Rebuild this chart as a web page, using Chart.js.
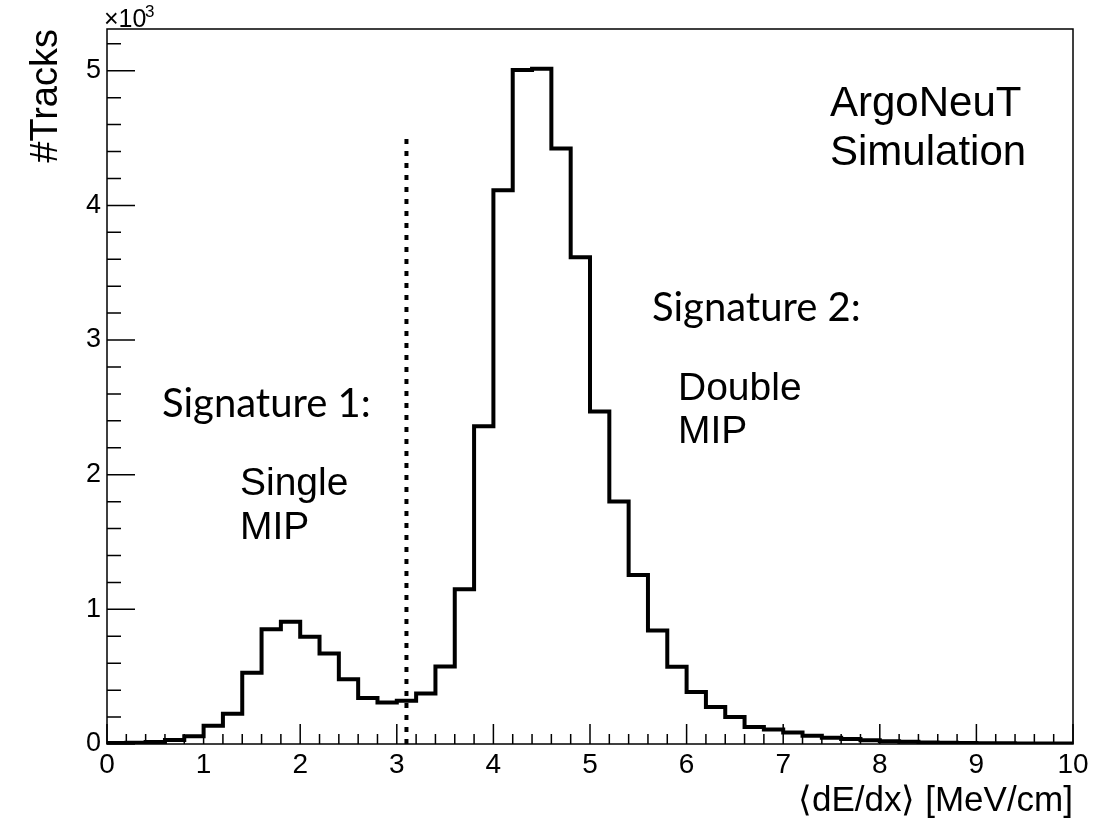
<!DOCTYPE html>
<html lang="en">
<head>
<meta charset="UTF-8">
<title>ArgoNeuT dE/dx</title>
<script src="https://cdn.jsdelivr.net/npm/chart.js"></script>
<style>
  body { margin: 0; background: #fff; }
  canvas { display: block; }
</style>
</head>
<body>
<canvas id="histo" width="1114" height="822"></canvas>

<script>
// bin edges of the <dE/dx> histogram (MeV/cm)
const binEdges = [0, 0.2, 0.4, 0.6, 0.8, 1, 1.2, 1.4, 1.6, 1.8,
                  2, 2.2, 2.4, 2.6, 2.8, 3, 3.2, 3.4, 3.6, 3.8,
                  4, 4.2, 4.4, 4.6, 4.8, 5, 5.2, 5.4, 5.6, 5.8,
                  6, 6.2, 6.4, 6.6, 6.8, 7, 7.2, 7.4, 7.6, 7.8,
                  8, 8.2, 8.4, 8.6, 8.8, 9, 9.2, 9.4, 9.6, 9.8, 10];

// number of tracks in each bin
const trackCounts = [8, 10, 14, 30, 58, 135, 225, 530, 853, 908,
                     796, 672, 481, 342, 308, 322, 375, 575, 1149, 2359,
                     4112, 5005, 5015, 4423, 3614, 2470, 1801, 1255, 843, 573,
                     387, 275, 201, 127, 107, 85, 62, 47, 37, 27,
                     20, 16, 12, 10, 8, 6, 5, 4, 3, 3];

// cut between single and double MIP
const cutValue = 3.1;
const cutTop = 4500;

const xTickLabels = [0, 1, 2, 3, 4, 5, 6, 7, 8, 9, 10];
const yTickLabels = [0, 1, 2, 3, 4, 5];   // x10^3

// text drawn on the pad
const notes = [
  { text: 'ArgoNeuT',     x: 830, y: 116, font: '42px "Liberation Sans"' },
  { text: 'Simulation',   x: 830, y: 165, font: '42px "Liberation Sans"' },
  { text: 'Signature 2:', x: 652, y: 321, font: '40px Lato' },
  { text: 'Double',       x: 678, y: 400, font: '39px "Liberation Sans"' },
  { text: 'MIP',          x: 678, y: 443, font: '39px "Liberation Sans"' },
  { text: 'Signature 1:', x: 162, y: 417, font: '40px Lato' },
  { text: 'Single',       x: 240, y: 495, font: '39px "Liberation Sans"' },
  { text: 'MIP',          x: 240, y: 539, font: '39px "Liberation Sans"' }
];

Chart.defaults.font.family = '"Liberation Sans", Arial, sans-serif';
Chart.defaults.color = '#000';

// histogram as a step line: point i holds bin i from its low edge,
// the extra last point closes the last bin at the upper edge
let histPoints = [];
for (let i = 0; i < trackCounts.length; i++) {
  histPoints.push({ x: binEdges[i], y: trackCounts[i] });
}
histPoints.push({ x: binEdges[binEdges.length - 1], y: trackCounts[trackCounts.length - 1] });

const cutPoints = [{ x: cutValue, y: 0 }, { x: cutValue, y: cutTop }];

// ROOT style frame, inward ticks, x10^3 and the text boxes
const rootPad = {
  id: 'rootPad',
  afterDatasetsDraw(chart) {
    const ctx = chart.ctx;
    const a = chart.chartArea;
    const xs = chart.scales.x;
    const ys = chart.scales.y;

    ctx.save();
    ctx.strokeStyle = '#000';
    ctx.lineWidth = 1.5;
    ctx.strokeRect(a.left, a.top, a.right - a.left, a.bottom - a.top);

    ctx.beginPath();
    for (let k = 0; k <= 50; k++) {
      const px = xs.getPixelForValue(k * 0.2);
      const len = (k % 5 === 0) ? 20 : 10;
      ctx.moveTo(px, a.bottom);
      ctx.lineTo(px, a.bottom - len);
    }
    for (let k = 0; k * 200 <= ys.max; k++) {
      const py = ys.getPixelForValue(k * 200);
      const len = (k % 5 === 0) ? 28 : 14;
      ctx.moveTo(a.left, py);
      ctx.lineTo(a.left + len, py);
    }
    ctx.stroke();

    // exponent
    ctx.fillStyle = '#000';
    ctx.textBaseline = 'alphabetic';
    ctx.textAlign = 'left';
    ctx.font = '25px "Liberation Sans"';
    ctx.fillText('\u00d710', a.left - 3, a.top - 2);
    ctx.font = '17px "Liberation Sans"';
    ctx.fillText('3', a.left + 38, a.top - 12);

    notes.forEach(function (n) {
      ctx.font = n.font;
      ctx.fillText(n.text, n.x, n.y);
    });
    ctx.restore();
  }
};

new Chart(document.getElementById('histo'), {
  type: 'line',
  data: {
    datasets: [
      {
        data: histPoints,
        stepped: 'before',
        borderColor: '#000',
        borderWidth: 4,
        pointRadius: 0,
        fill: false
      },
      {
        data: cutPoints,
        borderColor: '#000',
        borderWidth: 4,
        borderDash: [5, 7],
        pointRadius: 0,
        fill: false
      }
    ]
  },
  options: {
    responsive: false,
    animation: false,
    layout: { padding: { top: 29, right: 41, left: 0, bottom: 0 } },
    plugins: {
      legend: { display: false },
      tooltip: { enabled: false }
    },
    scales: {
      x: {
        type: 'linear',
        min: 0,
        max: 10,
        grid: { display: false, drawTicks: false },
        border: { display: false },
        afterBuildTicks(scale) {
          scale.ticks = xTickLabels.map(function (v) { return { value: v }; });
        },
        ticks: {
          font: { size: 28 },
          padding: 4,
          maxRotation: 0,
          autoSkip: false
        },
        title: {
          display: true,
          text: '\u27e8dE/dx\u27e9 [MeV/cm]',
          align: 'end',
          font: { size: 35 },
          padding: { top: 0, bottom: 0 }
        },
        afterFit(scale) { scale.height = 78; }
      },
      y: {
        type: 'linear',
        min: 0,
        max: 5310,
        grid: { display: false, drawTicks: false },
        border: { display: false },
        afterBuildTicks(scale) {
          scale.ticks = yTickLabels.map(function (v) { return { value: v * 1000 }; });
        },
        ticks: {
          font: { size: 27 },
          padding: 6,
          callback: function (v) { return v / 1000; }
        },
        title: {
          display: true,
          text: '#Tracks',
          align: 'end',
          font: { size: 38 },
          padding: { top: 24, bottom: 0 }
        },
        afterFit(scale) { scale.width = 107; }
      }
    }
  },
  plugins: [rootPad]
});
</script>
</body>
</html>
